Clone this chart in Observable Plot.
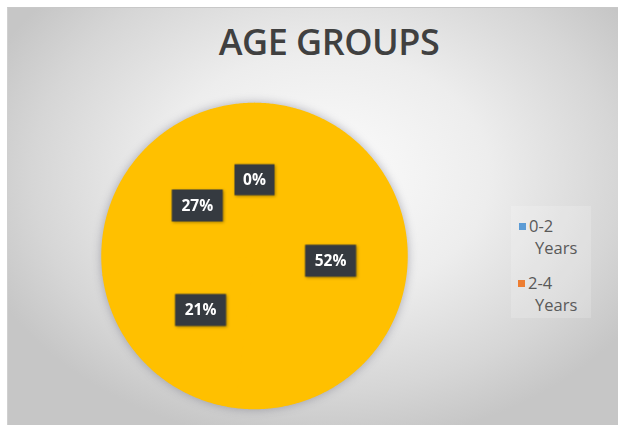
<!DOCTYPE html>
<html>
<head>
<meta charset="utf-8">
<script src="https://cdn.jsdelivr.net/npm/d3@7"></script>
<script src="https://cdn.jsdelivr.net/npm/@observablehq/plot@0.6"></script>
<style>
  html, body { margin: 0; padding: 0; background: #fff; }
  #wrap { position: relative; width: 618px; height: 430px; overflow: hidden; font-family: "Open Sans", sans-serif; }
  #frame { position: absolute; left: 7px; top: 7px; width: 611px; height: 418px;
    background: radial-gradient(ellipse 60% 65% at 52% 40%, #fcfcfc 0%, #ededed 45%, #d6d6d6 80%, #c6c6c6 100%);
    border-top: 1px solid #c8c8c8; border-left: 1px solid #d0d0d0; box-sizing: border-box; }
  #title { position: absolute; left: 0; width: 658px; top: 20px; text-align: center; font-size: 36px; font-weight: 600; color: #404040; letter-spacing: -0.5px; line-height: 44px; }
  #chart { position: absolute; left: 0; top: 0; }
  #legend { position: absolute; left: 511px; top: 206px; width: 80px; height: 112px; background: rgba(255,255,255,0.18); }
  .li { position: absolute; font-size: 16.5px; color: #595959; line-height: 20px; }
  .sw { position: absolute; width: 7px; height: 7px; }
</style>
</head>
<body>
<div id="wrap">
  <div id="frame"></div>
  <div id="title">AGE GROUPS</div>
  <div id="chart"></div>
  <div id="legend"></div>
</div>
<script>
const categories = ["0-2 Years", "2-4 Years", "4-6 Years", "6-8 Years"];
const values = [0, 52, 21, 27];
const sliceColors = ["#FFC000", "#FFC000", "#FFC000", "#FFC000"];
const legendCategories = ["0-2 Years", "2-4 Years"];
const legendColors = ["#5B9BD5", "#ED7D31"];

const arcs = d3.pie().sort(null).value(d => d.value)(categories.map((c, i) => ({category: c, value: values[i]})));

// polygon outline rows for each slice (unit circle data space)
const polyRows = [];
arcs.forEach((a, i) => {
  const n = Math.max(2, Math.ceil((a.endAngle - a.startAngle) / 0.01));
  polyRows.push({slice: categories[i], x: 0, y: 0});
  for (let k = 0; k <= n; k++) {
    const t = a.startAngle + (a.endAngle - a.startAngle) * k / n;
    polyRows.push({slice: categories[i], x: Math.sin(t), y: Math.cos(t)});
  }
  polyRows.push({slice: categories[i], x: 0, y: 0});
});

const labelRows = arcs.map((a, i) => {
  const m = (a.startAngle + a.endAngle) / 2;
  return {label: values[i] + "%", x: 0.5 * Math.sin(m), y: 0.5 * Math.cos(m)};
});

const boxSymbol = (w, h) => ({ draw(ctx) { ctx.rect(-w / 2, -h / 2, w, h); } });

const cx = 254, cy = 255.5, R = 152.5;
const plot = Plot.plot({
  width: 618, height: 430,
  margin: 0,
  style: { background: "transparent", overflow: "visible" },
  x: { domain: [-1, 1], range: [cx - R, cx + R], axis: null },
  y: { domain: [-1, 1], range: [cy + R, cy - R], axis: null },
  color: { domain: categories, range: sliceColors },
  marks: [
    Plot.line(polyRows, { x: "x", y: "y", z: "slice", fill: "slice", stroke: "slice", strokeWidth: 1.5,
      imageFilter: "drop-shadow(0px 0px 5px rgba(90,90,110,0.45))" }),
    Plot.dot(labelRows, { x: "x", y: "y", fill: "#353a40", stroke: "none",
      symbol: d => d.label.length > 2 ? boxSymbol(51, 32) : boxSymbol(40, 31),
      imageFilter: "drop-shadow(1px 1px 1.5px rgba(0,0,0,0.35))" }),
    Plot.text(labelRows, { x: "x", y: "y", text: "label", fill: "#ffffff", fontSize: 15.5, fontWeight: "bold",
      fontFamily: "Open Sans" })
  ]
});
document.getElementById("chart").appendChild(plot);

const lg = document.getElementById("legend");
legendCategories.forEach((c, i) => {
  const top0 = 12 + i * 57;
  const [a, b] = c.split(" ");
  const sw = document.createElement("div");
  sw.className = "sw"; sw.style.background = legendColors[i];
  sw.style.left = (8 - i) + "px"; sw.style.top = (top0 + 5) + "px";
  lg.appendChild(sw);
  const t1 = document.createElement("div");
  t1.className = "li"; t1.textContent = a; t1.style.left = (18 - i) + "px"; t1.style.top = (top0 - 2) + "px";
  lg.appendChild(t1);
  const t2 = document.createElement("div");
  t2.className = "li"; t2.textContent = b; t2.style.left = "24px"; t2.style.top = (top0 + 20) + "px";
  lg.appendChild(t2);
});
</script>
</body>
</html>
